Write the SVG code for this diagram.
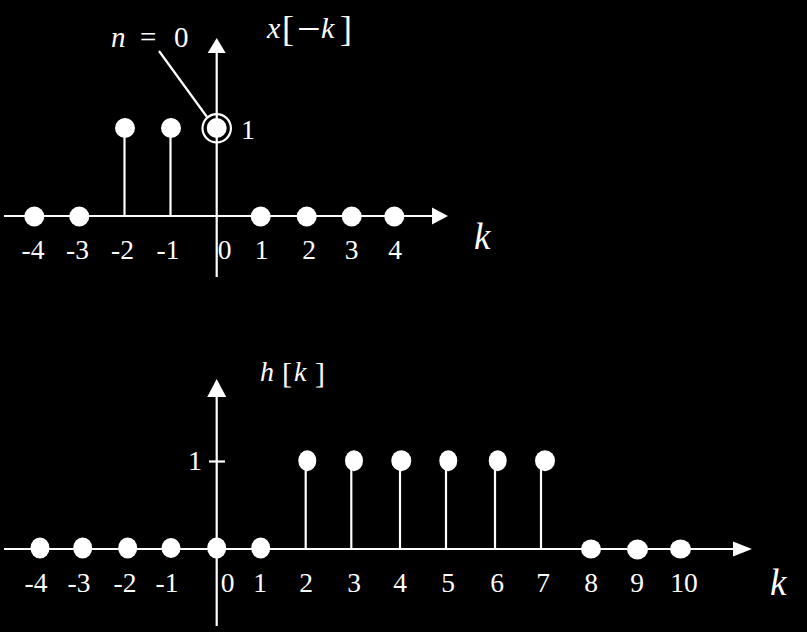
<svg xmlns="http://www.w3.org/2000/svg" width="807" height="632" viewBox="0 0 807 632">
<style>
.ax{stroke:#fff;stroke-width:2.2;fill:none}
.st{stroke:#fff;stroke-width:2.2}
.dot{fill:#fff}
.ah{fill:#fff}
.lb{font-family:"Liberation Serif","Times New Roman",serif;font-size:27.5px;fill:#fff;text-anchor:middle}
.m{font-family:"Liberation Serif","Times New Roman",serif;fill:#fff}
.i{font-style:italic}
</style>
<rect width="807" height="632" fill="#000"/>
<g id="top-plot">
  <g id="top-axes">
    <line class="ax" x1="4" y1="216" x2="434" y2="216"/>
    <polygon class="ah" points="432,207.5 448,216 432,224.5"/>
    <line class="ax" x1="216.7" y1="277" x2="216.7" y2="52"/>
    <polygon class="ah" points="207.7,53 216.7,38 225.7,53"/>
  </g>
  <g id="top-stems">
    <line class="st" x1="124.5" y1="128" x2="124.5" y2="216"/>
    <line class="st" x1="170.5" y1="128" x2="170.5" y2="216"/>
  </g>
  <g id="top-dots">
    <circle class="dot" cx="34.3" cy="216.5" r="10"/>
    <circle class="dot" cx="79.3" cy="216.5" r="10"/>
    <circle class="dot" cx="125" cy="128" r="10"/>
    <circle class="dot" cx="171" cy="128" r="10"/>
    <circle class="dot" cx="216.7" cy="128" r="10"/>
    <circle class="dot" cx="260.7" cy="216.5" r="10"/>
    <circle class="dot" cx="306.7" cy="216.5" r="10"/>
    <circle class="dot" cx="351.7" cy="216.5" r="10"/>
    <circle class="dot" cx="394.3" cy="216.5" r="10"/>
  </g>
  <g id="n0-marker">
    <circle cx="216.7" cy="128.3" r="14.2" fill="none" stroke="#fff" stroke-width="2.2"/>
    <line class="st" x1="159" y1="51" x2="207" y2="117"/>
    <text class="m i" x="111" y="47" font-size="29">n</text>
    <text class="m" x="140" y="47" font-size="29">=</text>
    <text class="m" x="174" y="47" font-size="29">0</text>
  </g>
  <g id="top-title">
    <text class="m i" x="267" y="38" font-size="30">x</text>
    <text class="m" x="282" y="41" font-size="36">[</text>
    <text class="m" x="297" y="43" font-size="42">−</text>
    <text class="m i" x="321" y="38" font-size="30">k</text>
    <text class="m" x="340" y="41" font-size="36">]</text>
  </g>
  <text class="m" x="241" y="139" font-size="28">1</text>
  <g id="top-labels">
    <text class="lb" x="33" y="259">-4</text>
    <text class="lb" x="77.5" y="259">-3</text>
    <text class="lb" x="122.5" y="259">-2</text>
    <text class="lb" x="168" y="259">-1</text>
    <text class="lb" x="224.5" y="259">0</text>
    <text class="lb" x="261.7" y="259">1</text>
    <text class="lb" x="309" y="259">2</text>
    <text class="lb" x="351.7" y="259">3</text>
    <text class="lb" x="395" y="259">4</text>
  </g>
  <text class="m i" x="474" y="249" font-size="37">k</text>
</g>
<g id="bottom-plot">
  <g id="bottom-axes">
    <line class="ax" x1="4" y1="549" x2="735" y2="549"/>
    <polygon class="ah" points="733,541.5 752,549 733,556.5"/>
    <line class="ax" x1="216.7" y1="626" x2="216.7" y2="396"/>
    <polygon class="ah" points="207.2,397 216.7,379 226.2,397"/>
    <line class="ax" x1="209" y1="461.5" x2="225" y2="461.5"/>
  </g>
  <g id="bottom-stems">
    <line class="st" x1="305.7" y1="461" x2="305.7" y2="549"/>
    <line class="st" x1="351.3" y1="461" x2="351.3" y2="549"/>
    <line class="st" x1="400" y1="461" x2="400" y2="549"/>
    <line class="st" x1="446" y1="461" x2="446" y2="549"/>
    <line class="st" x1="495" y1="461" x2="495" y2="549"/>
    <line class="st" x1="541" y1="461" x2="541" y2="549"/>
  </g>
  <g id="bottom-dots">
    <ellipse class="dot" cx="40" cy="548" rx="9.5" ry="10.5"/>
    <ellipse class="dot" cx="82.7" cy="548" rx="9.5" ry="10.5"/>
    <ellipse class="dot" cx="127.7" cy="548" rx="9.5" ry="10.5"/>
    <ellipse class="dot" cx="171" cy="548" rx="9.5" ry="10"/>
    <ellipse class="dot" cx="216.7" cy="548" rx="9.5" ry="10.5"/>
    <ellipse class="dot" cx="260.7" cy="548" rx="9.5" ry="10.5"/>
    <ellipse class="dot" cx="307.3" cy="460.7" rx="9" ry="10.5"/>
    <ellipse class="dot" cx="354" cy="460.7" rx="9" ry="10.5"/>
    <ellipse class="dot" cx="401.3" cy="460.7" rx="10" ry="10.5"/>
    <ellipse class="dot" cx="448.3" cy="460.7" rx="9" ry="10.5"/>
    <ellipse class="dot" cx="497.7" cy="460.7" rx="9" ry="10.5"/>
    <ellipse class="dot" cx="545" cy="460.7" rx="10" ry="10.5"/>
    <ellipse class="dot" cx="591" cy="549" rx="10" ry="9.5"/>
    <ellipse class="dot" cx="637.5" cy="549.5" rx="10.5" ry="10"/>
    <ellipse class="dot" cx="680.5" cy="549" rx="10.5" ry="9.5"/>
  </g>
  <g id="bottom-title">
    <text class="m i" x="260" y="381" font-size="28">h</text>
    <text class="m" x="282" y="383" font-size="30">[</text>
    <text class="m i" x="294" y="381" font-size="28">k</text>
    <text class="m" x="315" y="383" font-size="30">]</text>
  </g>
  <text class="m" x="188" y="470" font-size="28">1</text>
  <g id="bottom-labels">
    <text class="lb" x="36" y="592">-4</text>
    <text class="lb" x="79" y="592">-3</text>
    <text class="lb" x="125" y="592">-2</text>
    <text class="lb" x="167" y="592">-1</text>
    <text class="lb" x="227.5" y="592">0</text>
    <text class="lb" x="260" y="592">1</text>
    <text class="lb" x="306" y="592">2</text>
    <text class="lb" x="354" y="592">3</text>
    <text class="lb" x="400" y="592">4</text>
    <text class="lb" x="448" y="592">5</text>
    <text class="lb" x="497" y="592">6</text>
    <text class="lb" x="543" y="592">7</text>
    <text class="lb" x="591" y="592">8</text>
    <text class="lb" x="637" y="592">9</text>
    <text class="lb" x="684" y="592">10</text>
  </g>
  <text class="m i" x="770" y="595" font-size="37">k</text>
</g>
</svg>
